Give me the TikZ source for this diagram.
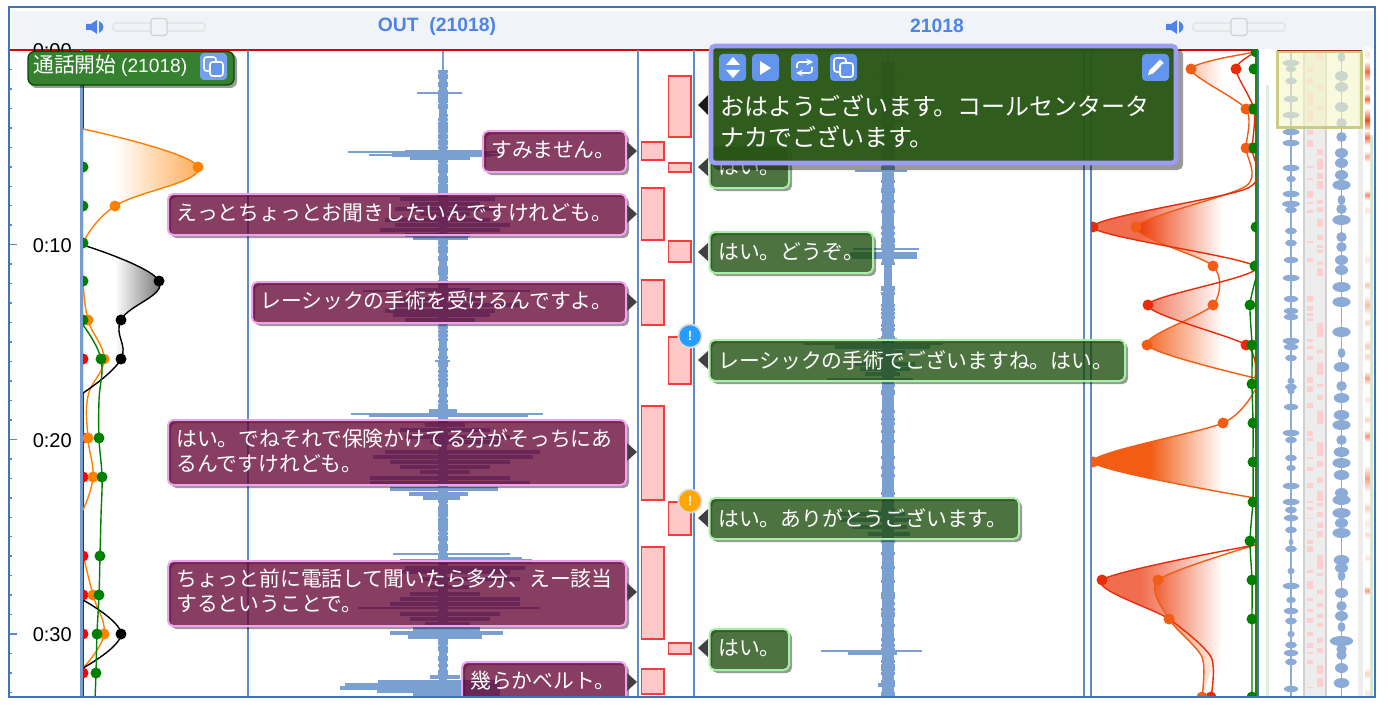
\documentclass[tikz,border=0pt]{standalone}
\usepackage{xcolor}
\usepackage{fontspec}
\setmainfont{Liberation Sans}
\newfontfamily\cjk{Noto Sans CJK JP}

\definecolor{framecol}{HTML}{3F74B8}
\definecolor{headcol}{HTML}{F0F4F9}
\definecolor{titlecol}{HTML}{4F83E8}
\definecolor{wavecol}{HTML}{7AA0D2}
\definecolor{minicol}{HTML}{8CABD6}
\definecolor{gridcol}{HTML}{5C8BC8}
\definecolor{iconcol}{HTML}{6495ED}
\definecolor{outfill}{HTML}{630130}
\definecolor{outline}{HTML}{F0A0F0}
\definecolor{infill}{HTML}{154704}
\definecolor{inline}{HTML}{A5F0A5}
\definecolor{popfill}{HTML}{285515}
\definecolor{popline}{HTML}{9C9CF5}
\definecolor{badgefill}{HTML}{35812F}
\definecolor{segfill}{HTML}{FFC8C8}
\definecolor{segline}{HTML}{F53C3C}
\definecolor{pinkcol}{HTML}{FFCFCF}
\definecolor{paleyellow}{HTML}{F5F5C8}
\definecolor{paleolive}{HTML}{C8C878}
\definecolor{lineR}{HTML}{E82C0A}
\definecolor{lineO}{HTML}{F25C15}
\definecolor{lineA}{HTML}{FF8000}
\definecolor{lineG}{HTML}{008000}

\tikzset{
  gridline/.style={gridcol,line width=.8pt},
  wavefill/.style={fill=wavecol},
  minifill/.style={fill=minicol},
  outcap/.style={draw=outline,line width=1.5pt,fill=outfill,fill opacity=.76,rounded corners=4pt},
  incap/.style={draw=inline,line width=1.5pt,fill=infill,fill opacity=.76,rounded corners=4pt},
  capshadow/.style={fill=black,opacity=.4,even odd rule,rounded corners=4pt},
  tailmark/.style={fill=black!75},
  captext/.style={font=\cjk\fontsize{15.6}{18.75}\selectfont,text=white,align=left,inner sep=0pt},
  poptext/.style={font=\cjk\fontsize{18}{23}\selectfont,text=white,align=left,inner sep=0pt},
  seg/.style={draw=segline,line width=1.1pt,fill=segfill},
  iconbox/.style={fill=iconcol,rounded corners=3pt},
  iconline/.style={draw=white,line width=1.2pt},
  alertmark/.style={circle,draw=black!15,line width=1.3pt,text=white,font=\bfseries\normalsize,minimum size=17.5pt,inner sep=0pt},
  timemark/.style={font=\fontsize{15}{17}\selectfont,anchor=east,inner sep=0pt},
  titlemark/.style={font=\bfseries\fontsize{14.5}{17}\selectfont,text=titlecol,inner sep=0pt},
  emoline/.style={line width=1.05pt},
  >=stealth
}

% curve fill: solid colour, then fade between two x values
\newcommand{\emotension}{.45}
\newcommand{\emofill}[6][.85]{%
  \begin{scope}
    \clip plot[smooth,tension=\emotension] coordinates {#6} -- cycle;
    \fill[#2,opacity=#1] (#4-100,50) rectangle (#4+.3,697);
    \shade[left color=#2,right color=#3,opacity=#1] (#4,50) rectangle (#5,697);
  \end{scope}}

\begin{document}
\begin{tikzpicture}[x=.75pt,y=-.75pt]
  \useasboundingbox (0,0) rectangle (1388,710);
  \begin{scope}
    \clip (9,8) rectangle (1375,696);

    % header
    \fill[headcol] (12,11) rectangle (1373,49);
    \node[titlemark] (outTitle) at (437,26.5) {OUT\ \ (21018)};
    \node[titlemark] (inTitle) at (937,26) {21018};
    \foreach \x in {0,1080}{
      \fill[titlecol] (86+\x,24) -- (91+\x,24) -- (97+\x,20) -- (97+\x,34) -- (91+\x,30) -- (86+\x,30) -- cycle;
      \fill[titlecol] (99+\x,21) .. controls (105+\x,24) and (105+\x,30) .. (99+\x,33) -- cycle;
      \draw[black!12,fill=headcol,line width=.8pt,rounded corners=2pt] (113+\x,23) rectangle (205+\x,31);
      \draw[black!18,fill=headcol,line width=.9pt,rounded corners=2pt] (151+\x,18.5) rectangle (167+\x,35.5);
    }

    % time axis
    \foreach \k in {1,...,33}{
      \pgfmathtruncatemacro\tick{mod(\k,10)==0 ? 17 : 12}
      \draw[gridcol,line width=1.1pt] (9,50+19.47*\k) -- (\tick,50+19.47*\k);
    }

    % waveforms
    \pgfmathsetseed{21}
    \fill[wavefill] (442.3,50) rectangle (443.7,70);
    \foreach \y in {70,72,...,696}{
      \pgfmathsetmacro\hw{3.8+1.6*rnd}
      \fill[wavefill] (443-\hw,\y) rectangle (443+\hw,\y+2.7);
    }
    \foreach \y/\xa/\xb in {92/417/462,151/348/500,154/369/500,413/351/543,415/369/528,553/393/510,557/440/522,360/435/450,
      290/363/530,607/358/540,343/803/943}{
      \fill[wavefill] (\xa,\y) rectangle (\xb,\y+1.8);
    }
    \foreach \y/\xa/\xb in {150/405/483,153/392/490,156/410/470,
      197/400/495,202/410/480,207/395/500,212/420/470,218/385/490,223/395/510,228/380/500,233/405/470,236/413/468,
      288/415/470,297/400/480,303/395/520,309/385/495,313/393/490,318/405/475,
      409/429/457,423/425/465,428/400/490,435/405/510,440/430/500,450/385/540,455/373/533,
      460/390/510,465/400/490,470/420/470,476/370/510,481/370/530,487/390/498,492/409/468,496/423/460,
      559/400/532,566/405/525,570/400/510,577/420/520,585/430/470,592/410/480,597/400/520,
      602/390/520,612/400/500,617/410/490,622/425/470,627/413/480,631/390/503,635/408/482,
      675/430/460,680/378/500,683/345/500,686/340/500,689/377/500,693/413/500}{
      \fill[wavefill] (\xa,\y) rectangle (\xb,\y+4);
    }
    \fill[wavefill] (887.3,50) rectangle (888.7,62);
    \foreach \y in {62,64,...,696}{
      \pgfmathsetmacro\hw{(\y>262 && \y<286) ? 3.5+1*rnd : 5.5+1.4*rnd}
      \fill[wavefill] (888-\hw,\y) rectangle (888+\hw,\y+2.7);
    }
    \foreach \y/\xa/\xb in {75/878/898,97/876/900,120/873/903,140/868/908,170/855/907,248/853/919,
      338/878/897,650/821/922}{
      \fill[wavefill] (\xa,\y) rectangle (\xb,\y+1.8);
    }
    \foreach \y/\xa/\xb in {252/850/917,255/852/917,345/835/930,350/870/905,355/880/900,362/855/915,367/860/910,372/865/900,378/827/913,
      512/840/905,518/840/912,525/852/907,532/868/910,651/848/897,683/878/895}{
      \fill[wavefill] (\xa,\y) rectangle (\xb,\y+3.6);
    }

    % minimap
    \fill[green!40!black,opacity=.12] (1266,85) rectangle (1268.5,697);
    \fill[green!40!black,opacity=.16] (1370,135) rectangle (1373,697);
    \fill[black!7] (1304,50) rectangle (1326,697);
    \fill[black!7] (1358,50) rectangle (1363,697);
    \draw[black!18,line width=.8pt] (1304,50) -- (1304,697) (1326,50) -- (1326,697);
    \foreach \ya/\yb in {67/72,78/84,93/106,110/122,130/135,140/147,166/168,178/180,191/198,202/204,210/213,241/243,
      258/262,296/302,306/311,313/316,318/321,339/342,346/349,356/360,377/383,386/392,403/408,431/436,438/441,457/459,467/471,483/488,
      501/503,507/510,518/519,530/531,540/544,546/552,570/573,581/589,598/601,609/612,618/623,632/636,643/648,652/654,660/664,687/688}{
      \fill[pinkcol] (1307,\ya) rectangle (1313,\yb);
    }
    \foreach \ya/\yb in {53/60,85/90,106/110,127/128,149/155,159/170,173/179,181/189,200/204,207/212,219/227,235/240,245/248,
      250/253,262/265,268/276,323/337,350/353,362/375,384/387,395/400,410/424,442/456,461/467,477/483,
      491/501,503/506,512/517,522/528,531/537,555/569,573/576,590/594,603/607,614/618,623/627,638/643,648/653,665/674,678/687}{
      \fill[pinkcol] (1317,\ya) rectangle (1323,\yb);
    }
    \foreach \ya/\yb/\heat in {50/58/15,63/80/80,85/90/25,95/103/80,110/130/95,132/143/75,153/160/45,192/198/60,
      207/213/15,255/263/12,282/288/30,297/313/35,320/325/25,342/350/28,353/360/25,373/383/50,397/402/15,417/422/25,
      432/440/55,467/490/50,503/513/25,517/530/12,532/537/20,555/560/15,588/593/55,670/677/25,690/697/15}{
      \shade[top color=white,bottom color=white,middle color=lineR!70!orange!\heat!white] (1365,\ya-2) rectangle (1370,\yb+2);
    }
    \fill[minifill] (1290.2,50) rectangle (1291.8,697);
    \fill[minifill] (1340.7,50) rectangle (1342.3,697);
    \foreach \y/\hw in {63/7,69/4.5,81/5,99/6,115/7,132/7,143/7,168/7,179/4,194/7,204/7.5,210/5,231/5,243/5,
      260/6,278/7,299/6,311/6,317/6,341/7,347/6,358/5,381/3,387/5,391/3,407/6,433/7,440/5,458/5,468/4,486/7,
      502/7,510/5,518/6,530/5,542/2,549/5,571/3,586/7,600/4,611/6,621/5,634/3,645/5,653/6,662/5,689/6}{
      \fill[minifill] (1291,\y) ellipse (\hw*1.2 and 3.2);
    }
    \foreach \y/\hw in {57/3,76/5,87/5,107/5,123/4,137/4,153/5,163/5,175/5,185/7,200/3,209/4,220/7,237/4,247/4,
      260/5,270/5,287/7,302/7,332/7,353/3,367/6,386/4,398/6,415/6,425/7,440/4,452/6,463/7,475/6,493/5,
      500/7,513/7,523/5,533/7,560/6,568/5,576/3,593/5,606/4,616/5,627/3,641/9,649/4,655/4,668/5,683/6}{
      \fill[minifill] (1341.5,\y) ellipse (\hw*1.3 and 5);
    }
    \fill[paleyellow,opacity=.6] (1277,51) rectangle (1362,128);
    \draw[paleolive,opacity=.9,line width=2pt] (1277.8,52) rectangle (1361.2,127.5);

    % panel lines
    \draw[lineG,line width=.8pt] (84,50) -- (710,50);
    \draw[red!85!black,line width=.8pt] (9,50) -- (1258,50);
    \draw[lineO!60!black,line width=1pt] (1277,50.5) -- (1362,50.5);
    \foreach \x in {248,638,694,1084,1091}{
      \draw[gridline] (\x,50) -- (\x,697);
    }
    \draw[gridcol!85!white,line width=2pt] (81.5,50) -- (81.5,697);
    \draw[red!70!black,line width=.5pt] (83,50) -- (83,697);
    \draw[green!50!black!80!orange,line width=.8pt] (1256,50) -- (1256,697);
    \draw[framecol,line width=1.5pt] (1258,50) -- (1258,697);

    % left curves
    \begin{scope}
      \renewcommand{\emotension}{.7}
      \clip (83,50) rectangle (248,697);
      \emofill{white}{lineA!75!white}{115}{198}{(83,129)(198,167)(115,206)(83,243)}
      \emofill{white}{black!60}{115}{159}{(83,245)(159,281)(121,320)(121,359)(83,393)}
      \draw[lineA,emoline] plot[smooth,tension=\emotension] coordinates {(83,129)(198,167)(115,206)(83,243)};
      \draw[lineA,emoline] plot[smooth,tension=\emotension] coordinates {(83,280)(88,320)(104,359)(88,396)(88,438)(93,477)(83,510)};
      \draw[lineA,emoline] plot[smooth,tension=\emotension] coordinates {(83,555)(93,595)(104,634)(83,668)};
      \draw[black,emoline] plot[smooth,tension=\emotension] coordinates {(83,245)(159,281)(121,320)(121,359)(83,393)};
      \draw[black,emoline] plot[smooth,tension=\emotension] coordinates {(83,600)(121,634)(83,668)};
      \draw[lineG,emoline] plot[smooth,tension=\emotension] coordinates {(83,325)(101,359)(99,400)(99,438)(102,477)(101,516)(100,556)(99,595)(97,634)(96,673)(95,700)};
      \foreach \y in {359,438,477,556,595,634,673}{ \fill[red] (83,\y) circle (5.5); }
      \foreach \x/\y in {198/167,115/206,88/320,104/359,88/438,93/477,93/595,104/634}{ \fill[lineA] (\x,\y) circle (5.5); }
      \foreach \x/\y in {159/281,121/320,121/359,121/634}{ \fill[black] (\x,\y) circle (5.5); }
      \foreach \x/\y in {83/167,83/206,83/243,83/281,83/320,101/359,99/438,102/477,100/556,99/595,97/634,96/673}{ \fill[lineG] (\x,\y) circle (5.5); }
    \end{scope}

    % right curves
    \begin{scope}
      \clip (1091,50) rectangle (1256.5,697);
      \emofill[1]{lineO}{white}{1140}{1222}{(1256,52)(1191,69)(1246,109)(1246,148)(1246,186)(1136,227)(1213,266)(1213,305)(1147,345)(1255,378)}
      \emofill[.72]{lineR!90!orange}{white}{1140}{1222}{(1256,52)(1236,69)(1254,109)(1252,148)(1248,188)(1093,227)(1256,267)(1148,305)(1246,345)(1255,378)}
      \emofill[1]{lineO}{white}{1150}{1222}{(1255,390)(1223,423)(1093,462)(1255,498)}
      \emofill[1]{lineO}{white}{1140}{1222}{(1255,545)(1158,580)(1169,619)(1202,657)(1202,697)}
      \emofill[.72]{lineR!90!orange}{white}{1140}{1222}{(1255,545)(1102,580)(1169,619)(1211,657)(1211,697)}
      \draw[lineO,emoline] plot[smooth,tension=\emotension] coordinates {(1256,52)(1191,69)(1246,109)(1246,148)(1246,186)(1136,227)(1213,266)(1213,305)(1147,345)(1255,378)};
      \draw[lineR,emoline] plot[smooth,tension=\emotension] coordinates {(1256,52)(1236,69)(1254,109)(1252,148)(1248,188)(1093,227)(1256,267)(1148,305)(1246,345)(1255,378)};
      \draw[lineO,emoline] plot[smooth,tension=\emotension] coordinates {(1255,390)(1223,423)(1093,462)(1255,498)};
      \draw[lineO,emoline] plot[smooth,tension=\emotension] coordinates {(1255,545)(1158,580)(1169,619)(1202,657)(1202,697)};
      \draw[lineR,emoline] plot[smooth,tension=\emotension] coordinates {(1255,545)(1102,580)(1169,619)(1211,657)(1211,697)};
      \draw[lineG,emoline] plot[smooth,tension=\emotension] coordinates {(1256,278)(1250,305)(1252,345)(1252,384)(1253,423)(1253,462)(1253,500)(1250,541)(1252,580)(1252,619)(1252,697)};
      \foreach \x/\y in {1236/69,1252/109,1252/148,1093/227,1148/305,1246/345,1102/580,1211/697}{ \fill[lineR] (\x,\y) circle (5.5); }
      \foreach \x/\y in {1191/69,1246/109,1246/148,1136/227,1213/266,1213/305,1147/345,1223/423,1093/462,1158/580,1169/619,1202/697}{ \fill[lineO] (\x,\y) circle (5.5); }
      \foreach \x/\y in {1256/52,1254/69,1254/109,1254/148,1256/227,1255/266,1250/305,1252/345,1252/384,1253/423,1253/462,1253/502,1250/541,1252/580,1252/619,1252/697}{ \fill[lineG] (\x,\y) circle (5.5); }
    \end{scope}

    % segments
    \foreach \ya/\yb in {142/160,188/240,280/325,406/500,547/639,669/694}{
      \draw[seg] (641.5,\ya) rectangle (664,\yb);
    }
    \foreach \ya/\yb in {76/137,163/172,241/262,337/384,502/535,643/654}{
      \draw[seg] (668.5,\ya) rectangle (691,\yb);
    }

    % time labels
    \foreach \y/\tlabel in {51/0:00,246/0:10,441/0:20,635/0:30}{
      \node[timemark] (t\y) at (72,\y) {\tlabel};
    }

    % left captions
    \foreach \xa/\ya/\yb/\yt/\txt in {483/131/172/151/{すみません。},
      168/194/235/214/{えっとちょっとお聞きしたいんですけれども。},
      252/282/323/302/{レーシックの手術を受けるんですよ。},
      168/420/485/452/{はい。でねそれで保険かけてる分がそっちにあ\\るんですけれども。},
      168/561/626/592/{ちょっと前に電話して聞いたら多分、えー該当\\するということで。},
      462/662/705/682/{幾らかベルト。}}{
      \fill[capshadow] (\xa+3,\ya+3) rectangle (629,\yb+3) (\xa,\ya) rectangle (626,\yb);
      \fill[tailmark] (627,\yt-9) -- (637,\yt) -- (627,\yt+9) -- cycle;
      \draw[outcap] (\xa,\ya) rectangle (626,\yb);
      \node[captext,anchor=west] (out\ya) at (\xa+8,\yt-1) {\txt};
    }

    % right captions
    \foreach \xb/\ya/\yb/\yt/\txt in {789/146/188/167/{はい。},
      873/232/273/252/{はい。どうぞ。},
      1125/340/381/360/{レーシックの手術でございますね。はい。},
      1019/498/539/518/{はい。ありがとうございます。},
      789/629/670/648/{はい。}}{
      \fill[capshadow] (712,\ya+3) rectangle (\xb+3,\yb+3) (709.5,\ya) rectangle (\xb,\yb);
      \fill[tailmark] (708,\yt-9) -- (698,\yt) -- (708,\yt+9) -- cycle;
      \draw[incap] (709.5,\ya) rectangle (\xb,\yb);
      \node[captext,anchor=west] (in\ya) at (718,\yt) {\txt};
    }

    % alerts
    \node[alertmark,fill=blue!45!cyan!85!white] (alertA) at (690,336) {!};
    \node[alertmark,fill=orange!70!yellow] (alertB) at (690,501) {!};

    % popup
    \fill[capshadow] (713,49) rectangle (1183,170) (711,46) rectangle (1176,163);
    \fill[tailmark,fill=black!90] (708,95) -- (698,105) -- (708,115) -- cycle;
    \draw[draw=popline,line width=3.4pt,fill=popfill,fill opacity=.96,rounded corners=3pt] (711,46) rectangle (1176,163);
    \foreach \x in {719,752,791,830,1142}{
      \fill[iconbox] (\x,54) rectangle (\x+27,81);
    }
    \fill[white] (733,57) -- (740,65) -- (726,65) -- cycle (726,70) -- (740,70) -- (733,78) -- cycle;
    \fill[white] (760,61) -- (771,68) -- (760,75) -- cycle;
    \draw[iconline,->,rounded corners=2pt] (797,68) -- (797,62) -- (813,62);
    \draw[iconline,->,rounded corners=2pt] (812,67) -- (812,73) -- (796,73);
    \draw[iconline,rounded corners=2pt] (834,58) rectangle (846,72);
    \draw[iconline,fill=iconcol,rounded corners=2pt] (840,63) rectangle (853,77);
    \fill[white] (1148,75) -- (1149.5,70) -- (1160,59.5) -- (1163.5,63) -- (1153,73.5) -- cycle;
    \node[poptext,anchor=north west] (popText) at (720,95) {おはようございます。コールセンタータ\\ナカでございます。};

    % start badge
    \fill[capshadow,rounded corners=5pt] (30,54) rectangle (237,88) (28,51.5) rectangle (234,85);
    \draw[draw=green!30!black,line width=1pt,fill=badgefill,rounded corners=5pt] (28,51.5) rectangle (234,85);
    \node[captext,anchor=west] (startText) at (33,66) {{\cjk 通話開始} \fontsize{14.4}{17}\selectfont\rmfamily(21018)};
    \fill[iconcol!90!white,rounded corners=3pt] (200,53) rectangle (227,80);
    \draw[iconline,rounded corners=2pt] (204,57) rectangle (216,71);
    \draw[iconline,fill=iconcol,rounded corners=2pt] (210,62) rectangle (223,76);
  \end{scope}

  % frame
  \draw[framecol,line width=1.5pt] (9,7.5) rectangle (1375,697);
\end{tikzpicture}
\end{document}
